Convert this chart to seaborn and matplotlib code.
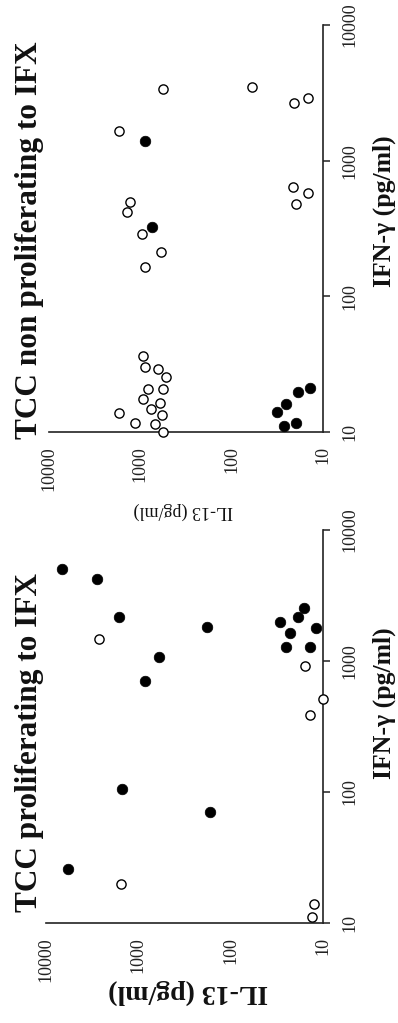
import matplotlib
matplotlib.use("Agg")
import matplotlib.pyplot as plt
import matplotlib.ticker as mticker
import numpy as np
import pandas as pd
import seaborn as sns

# IL-13 and IFN-gamma (pg/ml) per T-cell clone; filled = one group, open = the other
prolif_filled_il13 = [6760, 2780, 1607, 182, 592, 846, 29.2, 22.8, 18.8, 16.0, 11.9, 25.1, 13.8, 1513, 167, 5730]
prolif_filled_ifn = [5040, 4230, 2180, 1828, 1079, 708, 1972, 1644, 2180, 2524, 1775, 1285, 1285, 105, 70.7, 25.8]
prolif_open_il13 = [2667, 15.6, 10.0, 14.0, 1552, 12.5, 13.0]
prolif_open_ifn = [1462, 921, 513, 387, 19.9, 13.9, 11.2]

nonprolif_filled_il13 = [889, 750, 32.1, 25.4, 26.7, 19.9, 18.6, 13.8]
nonprolif_filled_ifn = [1402, 322, 14.0, 16.1, 11.1, 11.7, 19.6, 21.2]
nonprolif_open_il13 = [560, 60.3, 20.7, 14.5, 1698, 1297, 1409, 966, 593, 21.4, 14.5, 19.7,
                       889, 927, 889, 645, 527, 817, 560, 927, 608, 1698, 764, 583, 1143, 690, 560]
nonprolif_open_ifn = [3350, 3470, 2645, 2877, 1653, 498, 420, 286, 213, 636, 574, 479,
                      164, 36.3, 30.0, 29.1, 25.3, 20.6, 20.6, 17.4, 16.3, 13.7, 14.8, 13.4, 11.7, 11.4, 10.0]

tick_values = [10, 100, 1000, 10000]
tick_labels = ["10", "100", "1000", "10000"]

titles = ["TCC non proliferating to IFX", "TCC proliferating to IFX"]
ifn_label = "IFN-\u03b3 (pg/ml)"
il13_label = "IL-13 (pg/ml)"

sns.set_style("white")
plt.rcParams["font.family"] = ["Liberation Serif", "DejaVu Serif"]
plt.rcParams["mathtext.fontset"] = "stix"

W, H = 398, 1023
fig = plt.figure(figsize=(W / 100, H / 100), dpi=100)
fig.patch.set_facecolor("white")


def px_axes(x0, y0, x1, y1):
    """Axes placed by pixel box (left, top, right, bottom)."""
    return fig.add_axes([x0 / W, (H - y1) / H, (x1 - x0) / W, (y1 - y0) / H])


def draw_panel(ax, fil_x, fil_y, opn_x, opn_y):
    df_f = pd.DataFrame({"IL13": fil_x, "IFN": fil_y})
    df_o = pd.DataFrame({"IL13": opn_x, "IFN": opn_y})
    sns.scatterplot(data=df_o, x="IL13", y="IFN", ax=ax, s=44, color="white",
                    edgecolor="black", linewidth=1.0, clip_on=False, zorder=3)
    sns.scatterplot(data=df_f, x="IL13", y="IFN", ax=ax, s=58, color="black",
                    edgecolor="black", linewidth=0.5, clip_on=False, zorder=4)
    ax.set_xscale("log")
    ax.set_yscale("log")
    ax.set_xlim(10000, 10)
    ax.set_ylim(10, 10000)
    ax.set_xlabel("")
    ax.set_ylabel("")
    ax.set_facecolor("none")
    for side in ("top", "left"):
        ax.spines[side].set_visible(False)
    for side in ("bottom", "right"):
        ax.spines[side].set_visible(True)
        ax.spines[side].set_color("#222222")
        ax.spines[side].set_linewidth(1.2)
    ax.xaxis.set_major_locator(mticker.FixedLocator(tick_values))
    ax.yaxis.set_major_locator(mticker.FixedLocator(tick_values))
    ax.xaxis.set_minor_locator(mticker.NullLocator())
    ax.yaxis.set_minor_locator(mticker.NullLocator())
    ax.xaxis.set_major_formatter(mticker.FixedFormatter(tick_labels))
    ax.yaxis.set_major_formatter(mticker.FixedFormatter(tick_labels))
    ax.yaxis.tick_right()
    ax.tick_params(axis="both", which="major", direction="out", length=5, width=1.1,
                   color="#222222", labelsize=13, labelcolor="#222222")
    ax.tick_params(axis="x", pad=5)
    ax.tick_params(axis="y", pad=8)
    for lab in ax.get_xticklabels():
        lab.set_rotation(90)
        lab.set_va("top")
        lab.set_ha("center")
    for lab in ax.get_yticklabels():
        lab.set_rotation(90)
        lab.set_va("center")
        lab.set_ha("left")


ax_top = px_axes(49, 25, 323, 432)
draw_panel(ax_top, nonprolif_filled_il13, nonprolif_filled_ifn,
           nonprolif_open_il13, nonprolif_open_ifn)

ax_bot = px_axes(46, 530, 323, 923)
draw_panel(ax_bot, prolif_filled_il13, prolif_filled_ifn,
           prolif_open_il13, prolif_open_ifn)

# Panel titles, read bottom to top
fig.text(30 / W, 1 - 240 / H, titles[0], rotation=90, ha="center", va="center",
         fontsize=22.5, fontweight="bold", color="#111111")
fig.text(30 / W, 1 - 742 / H, titles[1], rotation=90, ha="center", va="center",
         fontsize=22.5, fontweight="bold", color="#111111")

# IFN-gamma axis labels
fig.text(384 / W, 1 - 211 / H, ifn_label, rotation=90, ha="center", va="center",
         fontsize=18.5, fontweight="bold", color="#111111")
fig.text(384 / W, 1 - 703 / H, ifn_label, rotation=90, ha="center", va="center",
         fontsize=18.5, fontweight="bold", color="#111111")

# IL-13 axis labels (upside down)
fig.text(183 / W, 1 - 511 / H, il13_label, rotation=180, ha="center", va="center",
         fontsize=13, color="#111111")
fig.text(188 / W, 1 - 992 / H, il13_label, rotation=180, ha="center", va="center",
         fontsize=20, fontweight="bold", color="#111111")

fig.savefig("out.png", dpi=100, facecolor="white")
